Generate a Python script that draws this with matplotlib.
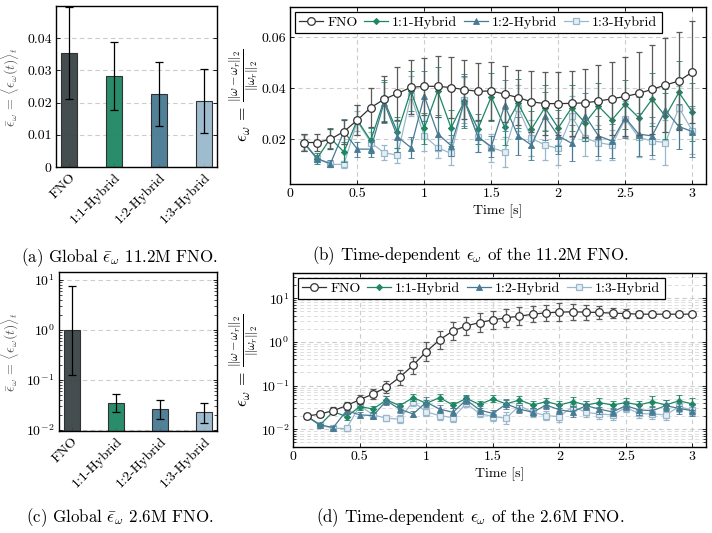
import numpy as np
import matplotlib
matplotlib.use("Agg")
from matplotlib import pyplot as plt
from matplotlib.lines import Line2D

plt.rcParams['font.family'] = 'serif'
plt.rcParams['font.serif'] = ['cmr10', 'DejaVu Serif']
plt.rcParams['mathtext.fontset'] = 'cm'
plt.rcParams['axes.formatter.use_mathtext'] = True
plt.rcParams['font.size'] = 10

# ---- data ----
models = ['FNO', '1:1-Hybrid', '1:2-Hybrid', '1:3-Hybrid']
colors = ['#3a4446', '#1d8663', '#477a93', '#9ab8cc']

# (a) global error, 11.2M FNO
glob_a = [0.0353, 0.0282, 0.0226, 0.0205]
glob_a_err = [0.0143, 0.0105, 0.0100, 0.0099]

# (c) global error, 2.6M FNO (lower, upper)
glob_c = [1.0, 0.0347, 0.0259, 0.0226]
glob_c_lo = [0.128, 0.0229, 0.0166, 0.0140]
glob_c_hi = [7.6, 0.0517, 0.0398, 0.0352]

time = [0.1, 0.2, 0.3, 0.4, 0.5, 0.6, 0.7, 0.8, 0.9, 1.0,
        1.1, 1.2, 1.3, 1.4, 1.5, 1.6, 1.7, 1.8, 1.9, 2.0,
        2.1, 2.2, 2.3, 2.4, 2.5, 2.6, 2.7, 2.8, 2.9, 3.0]

# (b) time-dependent, 11.2M FNO
b_fno = [0.0187, 0.0187, 0.0200, 0.0230, 0.0275, 0.0324, 0.0357, 0.0380, 0.0404, 0.0408,
         0.0408, 0.0403, 0.0395, 0.0388, 0.0390, 0.0377, 0.0364, 0.0347, 0.0340, 0.0340,
         0.0341, 0.0343, 0.0350, 0.0359, 0.0368, 0.0380, 0.0396, 0.0413, 0.0429, 0.0464]
b_fno_err = [0.0035, 0.0034, 0.0040, 0.0047, 0.0058, 0.0076, 0.0090, 0.0104, 0.0106, 0.0112,
             0.0120, 0.0120, 0.0115, 0.0112, 0.0114, 0.0110, 0.0109, 0.0120, 0.0123, 0.0123,
             0.0127, 0.0134, 0.0142, 0.0144, 0.0155, 0.0164, 0.0174, 0.0184, 0.0191, 0.0200]
b_h11 = [0.0187, 0.0124, 0.0204, 0.0150, 0.0275, 0.0195, 0.0353, 0.0227, 0.0390, 0.0243,
         0.0390, 0.0245, 0.0350, 0.0240, 0.0367, 0.0247, 0.0341, 0.0240, 0.0324, 0.0244,
         0.0324, 0.0264, 0.0330, 0.0276, 0.0337, 0.0285, 0.0357, 0.0290, 0.0384, 0.0307]
b_h11_err = [0.0035, 0.0020, 0.0040, 0.0040, 0.0060, 0.0050, 0.0080, 0.0060, 0.0080, 0.0060,
             0.0095, 0.0070, 0.0105, 0.0060, 0.0095, 0.0070, 0.0095, 0.0070, 0.0090, 0.0070,
             0.0090, 0.0070, 0.0090, 0.0080, 0.0095, 0.0080, 0.0105, 0.0090, 0.0124, 0.0115]
b_h12 = [0.0187, 0.0124, 0.0104, 0.0230, 0.0161, 0.0161, 0.0344, 0.0210, 0.0167, 0.0370,
         0.0221, 0.0175, 0.0350, 0.0210, 0.0171, 0.0333, 0.0213, 0.0177, 0.0290, 0.0213,
         0.0184, 0.0293, 0.0213, 0.0193, 0.0284, 0.0220, 0.0213, 0.0313, 0.0250, 0.0230]
b_h12_err = [0.0035, 0.0015, 0.0015, 0.0050, 0.0030, 0.0030, 0.0080, 0.0060, 0.0040, 0.0097,
             0.0065, 0.0040, 0.0100, 0.0060, 0.0040, 0.0100, 0.0075, 0.0060, 0.0095, 0.0070,
             0.0070, 0.0090, 0.0080, 0.0065, 0.0080, 0.0085, 0.0075, 0.0085, 0.0090, 0.0100]
b_h13 = [0.0187, 0.0124, 0.0101, 0.0101, 0.0271, 0.0187, 0.0147, 0.0137, 0.0370, 0.0213,
         0.0167, 0.0144, 0.0353, 0.0210, 0.0167, 0.0150, 0.0324, 0.0204, 0.0177, 0.0164,
         0.0290, 0.0204, 0.0187, 0.0177, 0.0280, 0.0207, 0.0193, 0.0187, 0.0324, 0.0233]
b_h13_err = [0.0030, 0.0015, 0.0012, 0.0015, 0.0040, 0.0040, 0.0030, 0.0030, 0.0080, 0.0060,
             0.0040, 0.0045, 0.0090, 0.0060, 0.0055, 0.0060, 0.0090, 0.0070, 0.0060, 0.0065,
             0.0080, 0.0070, 0.0070, 0.0060, 0.0070, 0.0075, 0.0070, 0.0090, 0.0085, 0.0090]

# (d) time-dependent, 2.6M FNO, spread given as log10 factor
d_fno = [0.0200, 0.0224, 0.0267, 0.0348, 0.0478, 0.0645, 0.0917, 0.155, 0.292, 0.601,
         1.11, 1.79, 2.32, 2.77, 3.19, 3.55, 3.87, 4.30, 4.62, 4.78,
         4.87, 4.78, 4.70, 4.53, 4.45, 4.30, 4.30, 4.30, 4.30, 4.30]
d_fno_lg = [0.02, 0.06, 0.08, 0.09, 0.10, 0.12, 0.14, 0.17, 0.19, 0.21,
            0.21, 0.21, 0.21, 0.21, 0.21, 0.21, 0.21, 0.19, 0.19, 0.21,
            0.19, 0.17, 0.14, 0.12, 0.10, 0.08, 0.06, 0.05, 0.03, 0.03]
d_h11 = [0.0200, 0.0126, 0.0254, 0.0195, 0.0330, 0.0292, 0.0470, 0.0348, 0.0530, 0.0394,
         0.0530, 0.0360, 0.0510, 0.0370, 0.0495, 0.0380, 0.0470, 0.0360, 0.0430, 0.0360,
         0.0430, 0.0360, 0.0408, 0.0360, 0.0410, 0.0360, 0.0430, 0.0360, 0.0450, 0.0380]
d_h11_lg = [0.05, 0.03, 0.06, 0.07, 0.08, 0.06, 0.09, 0.07, 0.08, 0.07,
            0.08, 0.07, 0.07, 0.07, 0.08, 0.08, 0.08, 0.08, 0.08, 0.08,
            0.10, 0.08, 0.10, 0.09, 0.10, 0.10, 0.12, 0.12, 0.13, 0.14]
d_h12 = [0.0200, 0.0126, 0.0110, 0.0267, 0.0214, 0.0206, 0.0450, 0.0290, 0.0224, 0.0417,
         0.0290, 0.0245, 0.0470, 0.0277, 0.0230, 0.0380, 0.0290, 0.0245, 0.0360, 0.0280,
         0.0250, 0.0348, 0.0290, 0.0250, 0.0348, 0.0277, 0.0267, 0.0348, 0.0300, 0.0267]
d_h12_lg = [0.05, 0.03, 0.03, 0.08, 0.07, 0.07, 0.10, 0.09, 0.08, 0.12,
            0.10, 0.09, 0.10, 0.09, 0.09, 0.12, 0.10, 0.09, 0.10, 0.10,
            0.11, 0.11, 0.11, 0.10, 0.11, 0.11, 0.11, 0.12, 0.12, 0.13]
d_h13 = [0.0200, 0.0126, 0.0105, 0.0105, 0.0348, 0.0214, 0.0179, 0.0171, 0.0430, 0.0250,
         0.0206, 0.0185, 0.0390, 0.0230, 0.0195, 0.0180, 0.0348, 0.0245, 0.0206, 0.0195,
         0.0330, 0.0245, 0.0224, 0.0214, 0.0315, 0.0230, 0.0224, 0.0214, 0.0330, 0.0277]
d_h13_lg = [0.05, 0.03, 0.03, 0.06, 0.07, 0.07, 0.07, 0.09, 0.09, 0.09,
            0.09, 0.10, 0.09, 0.09, 0.10, 0.13, 0.10, 0.10, 0.11, 0.12,
            0.11, 0.11, 0.11, 0.11, 0.11, 0.11, 0.11, 0.12, 0.12, 0.12]

# ---- figure ----
fig = plt.figure(figsize=(7.12, 5.33), dpi=100)
grid_kw = dict(color='#cccccc', linestyle=(0, (4, 3)), linewidth=0.8)
lab_col = '#555555'
ylab_a = r'$\bar{\epsilon}_\omega\,=\,\langle\epsilon_\omega(t)\rangle_t$'


def style_axes(ax):
    for s in ax.spines.values():
        s.set_linewidth(1.0)
    ax.tick_params(direction='in', top=True, right=True, length=3, width=0.6,
                   labelsize=10, pad=3)
    ax.tick_params(which='minor', direction='in', top=True, right=True, length=2, width=0.5)
    ax.set_axisbelow(True)


def bar_panel(ax, vals, yerr, bottom=None):
    x = np.arange(len(models))
    if bottom is None:
        ax.bar(x, vals, width=0.36, color=colors, edgecolor='#2b2b2b', linewidth=0.8,
               alpha=0.95, zorder=2)
    else:
        ax.bar(x, np.array(vals) - bottom, bottom=bottom, width=0.36, color=colors,
               edgecolor='#2b2b2b', linewidth=0.8, alpha=0.95, zorder=2)
    ax.errorbar(x, vals, yerr=yerr, fmt='none', ecolor='black', elinewidth=0.9,
                capsize=3, capthick=0.9, zorder=3)
    ax.set_xlim(-0.3, 3.3)
    ax.set_xticks(x)
    ax.set_xticklabels(models, rotation=45, ha='right', rotation_mode='anchor')
    style_axes(ax)
    ax.tick_params(axis='x', top=False)
    ax.set_ylabel(ylab_a, color=lab_col, fontsize=10)


# (a)
ax_a = fig.add_axes([0.0787, 0.6867, 0.2261, 0.302])
bar_panel(ax_a, glob_a, glob_a_err)
ax_a.set_ylim(0, 0.05)
ax_a.set_yticks([0, 0.01, 0.02, 0.03, 0.04])
ax_a.set_yticklabels(['0', '0.01', '0.02', '0.03', '0.04'])
ax_a.yaxis.grid(True, **grid_kw)
ax_a.yaxis.set_label_coords(-0.215, 0.5)

# (c)
ax_c = fig.add_axes([0.0824, 0.1919, 0.2228, 0.2972])
ax_c.set_yscale('log')
err_c = [np.array(glob_c) - np.array(glob_c_lo), np.array(glob_c_hi) - np.array(glob_c)]
bar_panel(ax_c, glob_c, err_c, bottom=0.001)
ax_c.set_ylim(0.0097, 14.2)
ax_c.set_yticks([0.01, 0.1, 1, 10])
ax_c.yaxis.grid(True, which='major', **grid_kw)
ax_c.yaxis.set_label_coords(-0.238, 0.5)

# line panels
line_styles = [
    dict(marker='o', ms=5.5, mfc='white', mec='#333333', mew=0.9),
    dict(marker='D', ms=3.2, mfc='#1d8663', mec='#1d8663', mew=0.6),
    dict(marker='^', ms=4.0, mfc='#477a93', mec='#477a93', mew=0.6),
    dict(marker='s', ms=5.0, mfc='#e6eef4', mec='#9ab8cc', mew=0.9),
]
line_cols = ['#333333', '#1d8663', '#477a93', '#9ab8cc']
err_cols = ['#5a5a5a', '#1d8663', '#477a93', '#9ab8cc']
ylab_b = r'$\epsilon_\omega\,=\,\frac{\|\omega-\omega_r\|_2}{\|\omega_r\|_2}$'


def line_panel(ax, series, errs, zorders):
    for i in range(4):
        ax.errorbar(time, series[i], yerr=errs[i], color=line_cols[i], lw=0.9,
                    ecolor=err_cols[i], elinewidth=0.9, capsize=2.5, capthick=0.9,
                    zorder=zorders[i], **line_styles[i])
    ax.set_xlim(0, 3.1)
    ax.set_xticks([0, 0.5, 1, 1.5, 2, 2.5, 3])
    ax.set_xticklabels(['0', '0.5', '1', '1.5', '2', '2.5', '3'])
    ax.set_xlabel('Time [s]', labelpad=3)
    ax.set_ylabel(ylab_b, color='black', labelpad=0, fontsize=12.5)
    style_axes(ax)
    handles = [Line2D([], [], color=line_cols[i], lw=0.9, **line_styles[i]) for i in range(4)]
    leg = ax.legend(handles, models, loc='upper left', ncol=4, frameon=True, fancybox=False,
                    edgecolor='black', framealpha=1, handlelength=1.7,
                    handletextpad=0.3, columnspacing=0.5, borderpad=0.3,
                    borderaxespad=0.35, fontsize=10)
    leg.get_frame().set_linewidth(0.9)
    leg.set_zorder(10)


# (b)
ax_b = fig.add_axes([0.4077, 0.6553, 0.5834, 0.3307])
line_panel(ax_b, [b_fno, b_h11, b_h12, b_h13], [b_fno_err, b_h11_err, b_h12_err, b_h13_err],
           [5, 3, 4, 2])
ax_b.set_ylim(0.0025, 0.0718)
ax_b.set_yticks([0.02, 0.04, 0.06])
ax_b.set_yticklabels(['0.02', '0.04', '0.06'])
ax_b.grid(True, **grid_kw)

# (d)
ax_d = fig.add_axes([0.412, 0.1619, 0.5791, 0.3253])
ax_d.set_yscale('log')
d_series = [d_fno, d_h11, d_h12, d_h13]
d_lg = [d_fno_lg, d_h11_lg, d_h12_lg, d_h13_lg]
d_errs = []
for s, g in zip(d_series, d_lg):
    s = np.array(s)
    f = 10 ** np.array(g)
    d_errs.append([s - s / f, s * f - s])
line_panel(ax_d, d_series, d_errs, [5, 3, 4, 2])
ax_d.set_ylim(0.004, 37)
ax_d.set_yticks([0.01, 0.1, 1, 10])
ax_d.grid(True, which='major', **grid_kw)
ax_d.yaxis.grid(True, which='minor', color='#dddddd', linestyle=(0, (4, 3)), linewidth=0.7)

# captions
cap_kw = dict(ha='center', va='center', fontsize=12.2)
fig.text(0.168, 0.516, r'(a) Global $\bar{\epsilon}_\omega$ 11.2M FNO.', **cap_kw)
fig.text(0.66, 0.521, r'(b) Time-dependent $\epsilon_\omega$ of the 11.2M FNO.', **cap_kw)
fig.text(0.168, 0.028, r'(c) Global $\bar{\epsilon}_\omega$ 2.6M FNO.', **cap_kw)
fig.text(0.66, 0.028, r'(d) Time-dependent $\epsilon_\omega$ of the 2.6M FNO.', **cap_kw)

fig.savefig('out.png', dpi=100)
